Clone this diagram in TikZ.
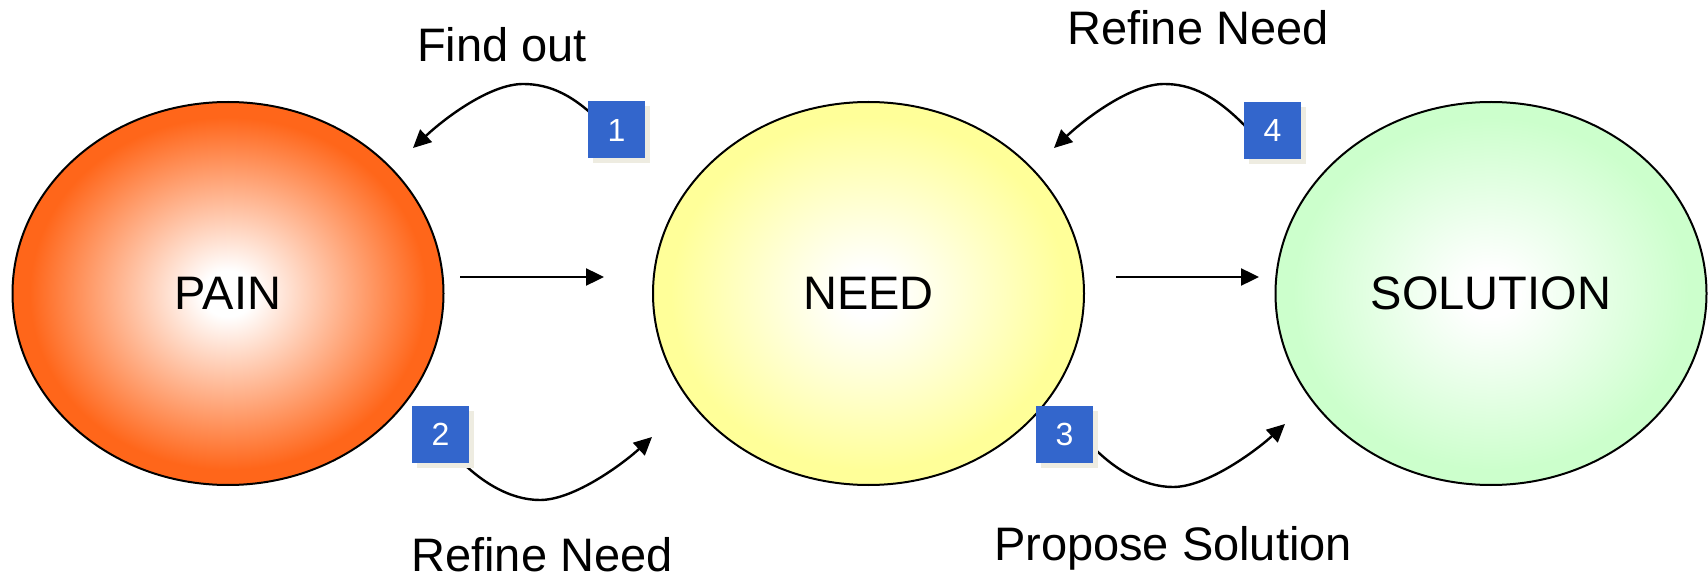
\documentclass[tikz,border=0pt]{standalone}
\usepackage{fontspec}
\setmainfont{Liberation Sans}
\usetikzlibrary{shapes.geometric,arrows.meta,shadows}
\definecolor{painc}{HTML}{FF661A}
\definecolor{needc}{HTML}{FFFF99}
\definecolor{solc}{HTML}{CCFFCC}
\definecolor{badgec}{HTML}{3366CC}
\definecolor{shadc}{HTML}{EEECE1}
\pgfdeclareradialshading{painshade}{\pgfpoint{0bp}{0bp}}{color(0bp)=(white); color(3bp)=(white); color(23bp)=(painc); color(50bp)=(painc)}
\pgfdeclareradialshading{needshade}{\pgfpoint{0bp}{0bp}}{color(0bp)=(white); color(3bp)=(white); color(23bp)=(needc); color(50bp)=(needc)}
\pgfdeclareradialshading{solshade}{\pgfpoint{0bp}{0bp}}{color(0bp)=(white); color(3bp)=(white); color(23bp)=(solc); color(50bp)=(solc)}
\begin{document}
\begin{tikzpicture}[x=1pt,y=-1pt,
  blob/.style={ellipse, draw=black, line width=2pt, inner sep=0pt,
    minimum width=431pt, minimum height=383pt,
    font=\fontsize{47}{56}\selectfont},
  badge/.style={rectangle, fill=badgec, inner sep=0pt, minimum size=57pt,
    text=white, font=\fontsize{32}{38}\selectfont,
    drop shadow={shadow xshift=5pt, shadow yshift=-5pt, fill=shadc, opacity=1}},
  lbl/.style={anchor=base, inner sep=0pt, font=\fontsize{47}{56}\selectfont},
  conn/.style={line width=2.4pt, -{Triangle[length=18pt,width=17pt]}}]
\useasboundingbox (0,0) rectangle (1708,577);

% ellipses
\node[blob, shading=painshade] (pain) at (228,293.5) {PAIN};
\node[blob, shading=needshade] (need) at (868.5,293.5) {NEED};
\node[blob, shading=solshade] (sol) at (1491,293.5) {SOLUTION};

% straight arrows
\coordinate (a1s) at (460,277);
\coordinate (a1e) at (604,277);
\coordinate (a2s) at (1116,277);
\coordinate (a2e) at (1259,277);
\draw[conn] (a1s) -- (a1e);
\draw[conn] (a2s) -- (a2e);

% curved arrows
\coordinate (c1s) at (606,128);
\coordinate (c1p) at (523,84);
\coordinate (c1e) at (413,148);
\draw[conn] (c1s) .. controls (575,95) and (550,84) .. (c1p)
  .. controls (490,84) and (445,118) .. (c1e);

\coordinate (c4s) at (1250,131);
\coordinate (c4p) at (1164,84);
\coordinate (c4e) at (1054,148);
\draw[conn] (c4s) .. controls (1216,95) and (1191,84) .. (c4p)
  .. controls (1131,84) and (1086,118) .. (c4e);

\coordinate (c2s) at (455,455);
\coordinate (c2p) at (540,500);
\coordinate (c2e) at (652,437);
\draw[conn] (c2s) .. controls (480,482) and (510,500) .. (c2p)
  .. controls (575,500) and (625,462) .. (c2e);

\coordinate (c3s) at (1088,442);
\coordinate (c3p) at (1173,487);
\coordinate (c3e) at (1285,424);
\draw[conn] (c3s) .. controls (1113,469) and (1143,487) .. (c3p)
  .. controls (1208,487) and (1258,449) .. (c3e);

% badges
\node[badge] (b1) at (616.5,130) {1};
\node[badge] (b2) at (440.5,434) {2};
\node[badge] (b3) at (1064.5,434) {3};
\node[badge] (b4) at (1272.5,130.5) {4};

% labels
\node[lbl] (l1) at (502,62) {Find out};
\node[lbl] (l4) at (1198,45) {Refine Need};
\node[lbl] (l2) at (542,571) {Refine Need};
\node[lbl] (l3) at (1173,560) {Propose Solution};
\end{tikzpicture}
\end{document}
